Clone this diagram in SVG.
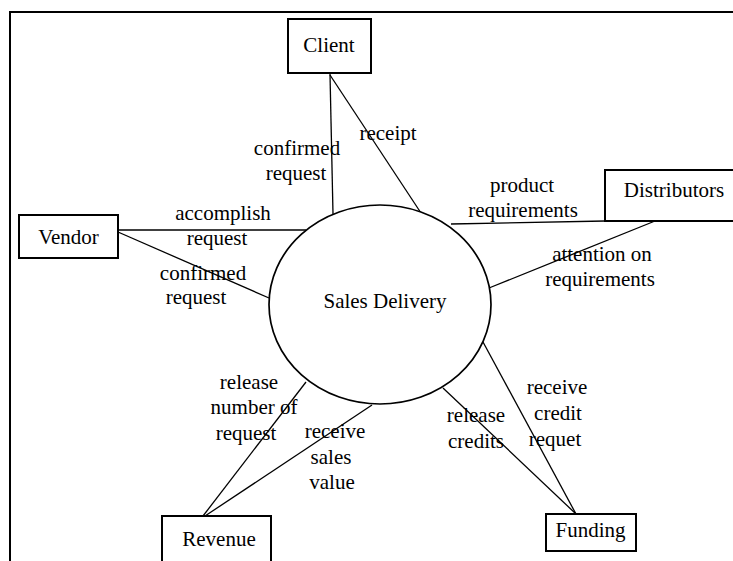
<svg xmlns="http://www.w3.org/2000/svg" width="733" height="561" viewBox="0 0 733 561">
  <style>
    .box { fill: #fff; stroke: #000; stroke-width: 2; }
    .proc { fill: #fff; stroke: #000; stroke-width: 1.7; }
    .flow { stroke: #000; stroke-width: 1.3; fill: none; }
    .frame { stroke: #000; stroke-width: 2; fill: none; }
    text { font-family: "Liberation Serif", "Times New Roman", serif; font-size: 21px; fill: #000; text-anchor: middle; }
  </style>
  <rect width="733" height="561" fill="#fff"/>

  <!-- outer frame -->
  <path class="frame" d="M10 561 V12 H735"/>

  <!-- data flows -->
  <g id="connectors">
    <line class="flow" x1="330" y1="74" x2="333" y2="214"/>
    <line class="flow" x1="330" y1="75" x2="421" y2="213"/>
    <line class="flow" x1="118" y1="230" x2="306" y2="230"/>
    <line class="flow" x1="118" y1="232" x2="269" y2="298"/>
    <line class="flow" x1="451" y1="224" x2="605" y2="221"/>
    <line class="flow" x1="655" y1="221" x2="489" y2="288"/>
    <line class="flow" x1="306" y1="382" x2="203" y2="516"/>
    <line class="flow" x1="372" y1="405" x2="205" y2="516"/>
    <line class="flow" x1="443" y1="388" x2="576" y2="514"/>
    <line class="flow" x1="483" y1="342" x2="576" y2="514"/>
  </g>

  <!-- flow labels -->
  <g id="labels">
    <text x="297" y="155">confirmed</text>
    <text x="296" y="180">request</text>
    <text x="388" y="140">receipt</text>
    <text x="522" y="192">product</text>
    <text x="523" y="217">requirements</text>
    <text x="602" y="261">attention on</text>
    <text x="600" y="286">requirements</text>
    <text x="223" y="220">accomplish</text>
    <text x="217" y="245">request</text>
    <text x="203" y="280">confirmed</text>
    <text x="196" y="304">request</text>
    <text x="249" y="389">release</text>
    <text x="254" y="414">number of</text>
    <text x="246" y="440">request</text>
    <text x="335" y="438">receive</text>
    <text x="331" y="464">sales</text>
    <text x="332" y="489">value</text>
    <text x="476" y="422">release</text>
    <text x="476" y="448">credits</text>
    <text x="557" y="394">receive</text>
    <text x="558" y="420">credit</text>
    <text x="555" y="446">requet</text>
  </g>

  <!-- process -->
  <g id="sales-delivery">
    <ellipse class="proc" cx="380" cy="304.5" rx="111" ry="99.5"/>
    <text x="385" y="308">Sales Delivery</text>
  </g>

  <!-- external entities -->
  <g id="client">
    <rect class="box" x="288" y="19" width="83" height="54"/>
    <text x="329" y="52">Client</text>
  </g>
  <g id="distributors">
    <rect class="box" x="605" y="170" width="140" height="51"/>
    <text x="674" y="197">Distributors</text>
  </g>
  <g id="vendor">
    <rect class="box" x="19" y="215" width="99" height="43"/>
    <text x="68.5" y="244">Vendor</text>
  </g>
  <g id="revenue">
    <rect class="box" x="162" y="516" width="109" height="60"/>
    <text x="219" y="546">Revenue</text>
  </g>
  <g id="funding">
    <rect class="box" x="546" y="514" width="90" height="37"/>
    <text x="590.5" y="537">Funding</text>
  </g>
</svg>
